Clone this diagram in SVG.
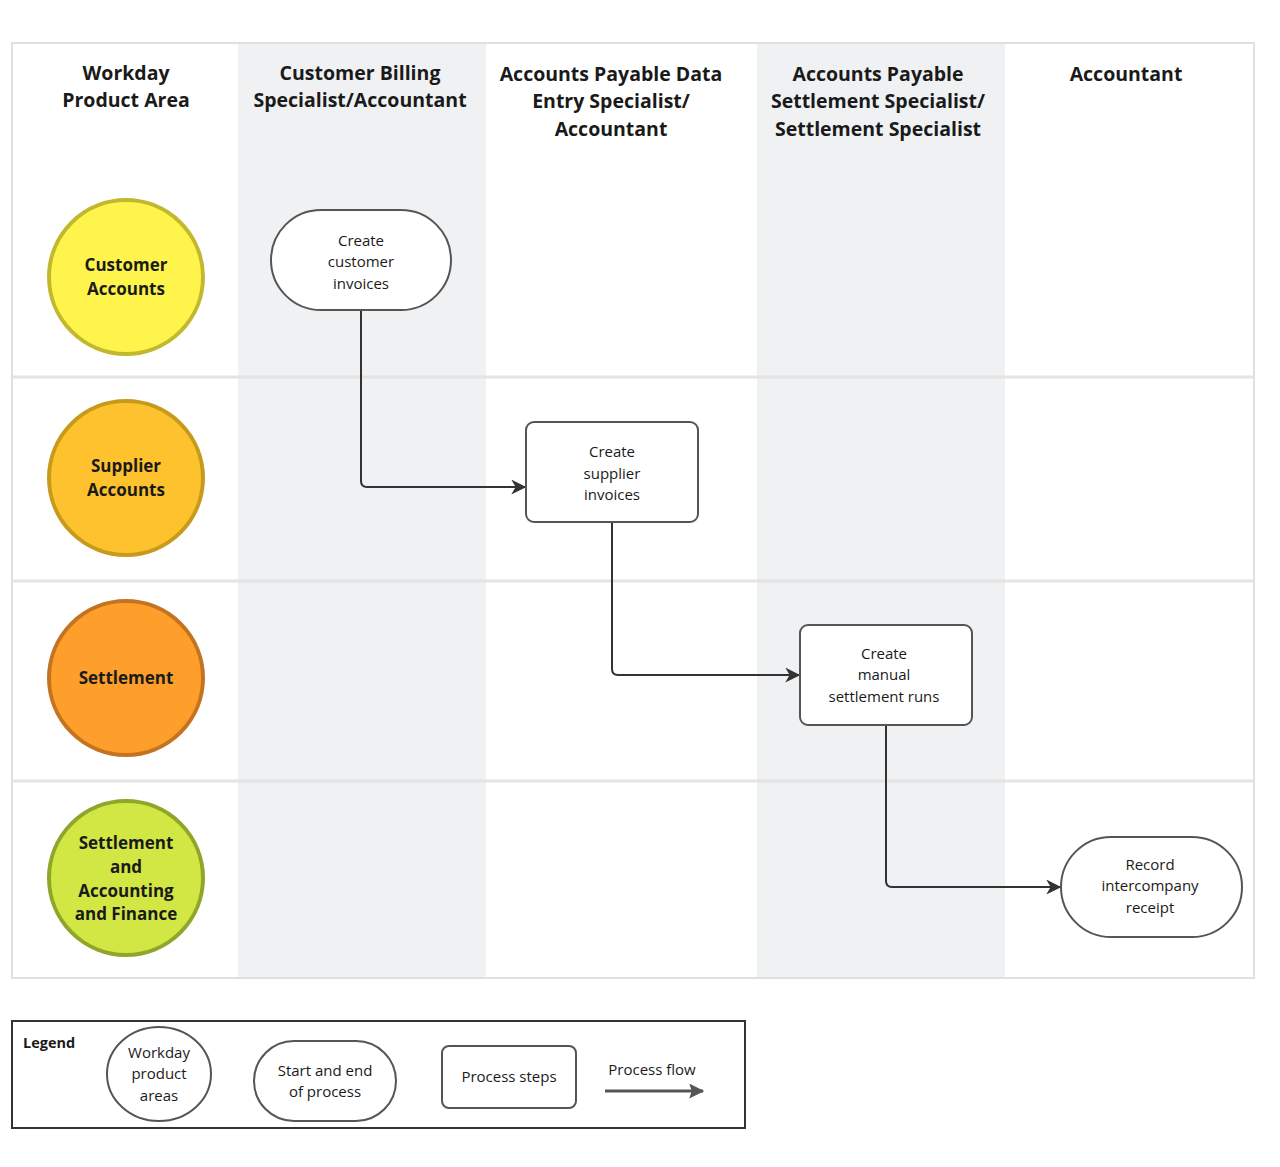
<svg xmlns="http://www.w3.org/2000/svg" width="1280" height="1167" viewBox="0 0 1280 1167">
<style>
.hdr{font-family:"Open Sans","Liberation Sans",sans-serif;font-weight:700;font-size:19.5px;fill:#1a1a1a;text-anchor:middle}
.area{font-family:"Open Sans","Liberation Sans",sans-serif;font-weight:700;font-size:17px;fill:#1a1a1a;text-anchor:middle}
.lbl{font-family:"Open Sans","Liberation Sans",sans-serif;font-size:15px;fill:#1a1a1a;text-anchor:middle}
.node{fill:#ffffff;stroke:#555;stroke-width:2}
.conn{fill:none;stroke:#333;stroke-width:2}
.sep{stroke:#e4e4e4;stroke-width:3}
</style>
<defs>
<marker id="arr" viewBox="0 0 12 12" refX="11" refY="6" markerWidth="15" markerHeight="15" markerUnits="userSpaceOnUse" orient="auto">
<path d="M0,0 L12,6 L0,12 L3.5,6 Z" fill="#333"/>
</marker>
<marker id="arrL" viewBox="0 0 12 12" refX="11" refY="6" markerWidth="5" markerHeight="5" orient="auto">
<path d="M0,0 L12,6 L0,12 L2,6 Z" fill="#555"/>
</marker>
</defs>
<rect width="1280" height="1167" fill="#fff"/>
<g id="lanes">
<rect x="238" y="43" width="248" height="935" fill="#f0f1f3"/>
<rect x="757" y="43" width="248" height="935" fill="#f0f1f3"/>
<line class="sep" x1="12" y1="377" x2="1254" y2="377"/>
<line class="sep" x1="12" y1="581" x2="1254" y2="581"/>
<line class="sep" x1="12" y1="781" x2="1254" y2="781"/>
<rect x="12" y="43" width="1242" height="935" fill="none" stroke="#e0e0e0" stroke-width="2"/>
</g>
<g id="headers">
<text class="hdr" x="126" y="80">Workday</text>
<text class="hdr" x="126" y="107">Product Area</text>
<text class="hdr" x="360" y="80">Customer Billing</text>
<text class="hdr" x="360" y="107">Specialist/Accountant</text>
<text class="hdr" x="611" y="81">Accounts Payable Data</text>
<text class="hdr" x="611" y="108">Entry Specialist/</text>
<text class="hdr" x="611" y="136">Accountant</text>
<text class="hdr" x="878" y="81">Accounts Payable</text>
<text class="hdr" x="878" y="108">Settlement Specialist/</text>
<text class="hdr" x="878" y="136">Settlement Specialist</text>
<text class="hdr" x="1126" y="81">Accountant</text>
</g>
<g id="area-customer-accounts">
<circle cx="126" cy="277" r="77" fill="#fef44c" stroke="#c2b82e" stroke-width="4"/>
<text class="area" x="126" y="271">Customer</text>
<text class="area" x="126" y="295">Accounts</text>
</g>
<g id="area-supplier-accounts">
<circle cx="126" cy="478" r="77" fill="#fdc22d" stroke="#c89a1c" stroke-width="4"/>
<text class="area" x="126" y="472">Supplier</text>
<text class="area" x="126" y="496">Accounts</text>
</g>
<g id="area-settlement">
<circle cx="126" cy="678" r="77" fill="#fd9f2a" stroke="#c47420" stroke-width="4"/>
<text class="area" x="126" y="684">Settlement</text>
</g>
<g id="area-saf">
<circle cx="126" cy="878" r="77" fill="#d2e744" stroke="#8fa62b" stroke-width="4"/>
<text class="area" x="126" y="849">Settlement</text>
<text class="area" x="126" y="873">and</text>
<text class="area" x="126" y="897">Accounting</text>
<text class="area" x="126" y="920">and Finance</text>
</g>
<g id="connectors">
<path class="conn" d="M361,310 V481 Q361,487 367,487 H525" marker-end="url(#arr)"/>
<path class="conn" d="M612,522 V669 Q612,675 618,675 H799" marker-end="url(#arr)"/>
<path class="conn" d="M886,725 V881 Q886,887 892,887 H1060" marker-end="url(#arr)"/>
</g>
<g id="node-create-customer-invoices">
<rect class="node" x="271" y="210" width="180" height="100" rx="50"/>
<text class="lbl" x="361" y="246">Create</text>
<text class="lbl" x="361" y="267">customer</text>
<text class="lbl" x="361" y="289">invoices</text>
</g>
<g id="node-create-supplier-invoices">
<rect class="node" x="526" y="422" width="172" height="100" rx="8"/>
<text class="lbl" x="612" y="457">Create</text>
<text class="lbl" x="612" y="479">supplier</text>
<text class="lbl" x="612" y="500">invoices</text>
</g>
<g id="node-create-manual-settlement-runs">
<rect class="node" x="800" y="625" width="172" height="100" rx="8"/>
<text class="lbl" x="884" y="659">Create</text>
<text class="lbl" x="884" y="680">manual</text>
<text class="lbl" x="884" y="702">settlement runs</text>
</g>
<g id="node-record-intercompany-receipt">
<rect class="node" x="1061" y="837" width="181" height="100" rx="50"/>
<text class="lbl" x="1150" y="870">Record</text>
<text class="lbl" x="1150" y="891">intercompany</text>
<text class="lbl" x="1150" y="913">receipt</text>
</g>
<g id="legend">
<rect x="12" y="1021" width="733" height="107" fill="#fff" stroke="#333" stroke-width="2"/>
<text x="23" y="1048" font-family="Open Sans, Liberation Sans, sans-serif" font-weight="700" font-size="14.5" fill="#1a1a1a">Legend</text>
<ellipse cx="159" cy="1074" rx="52" ry="47" fill="#fff" stroke="#555" stroke-width="2"/>
<text class="lbl" x="159" y="1058">Workday</text>
<text class="lbl" x="159" y="1079">product</text>
<text class="lbl" x="159" y="1101">areas</text>
<rect x="254" y="1041" width="142" height="80" rx="40" fill="#fff" stroke="#555" stroke-width="2"/>
<text class="lbl" x="325" y="1076">Start and end</text>
<text class="lbl" x="325" y="1097">of process</text>
<rect x="442" y="1046" width="134" height="62" rx="7" fill="#fff" stroke="#555" stroke-width="2"/>
<text class="lbl" x="509" y="1082">Process steps</text>
<text class="lbl" x="652" y="1075">Process flow</text>
<line x1="605" y1="1091" x2="703" y2="1091" stroke="#555" stroke-width="3" marker-end="url(#arrL)"/>
</g>
</svg>
